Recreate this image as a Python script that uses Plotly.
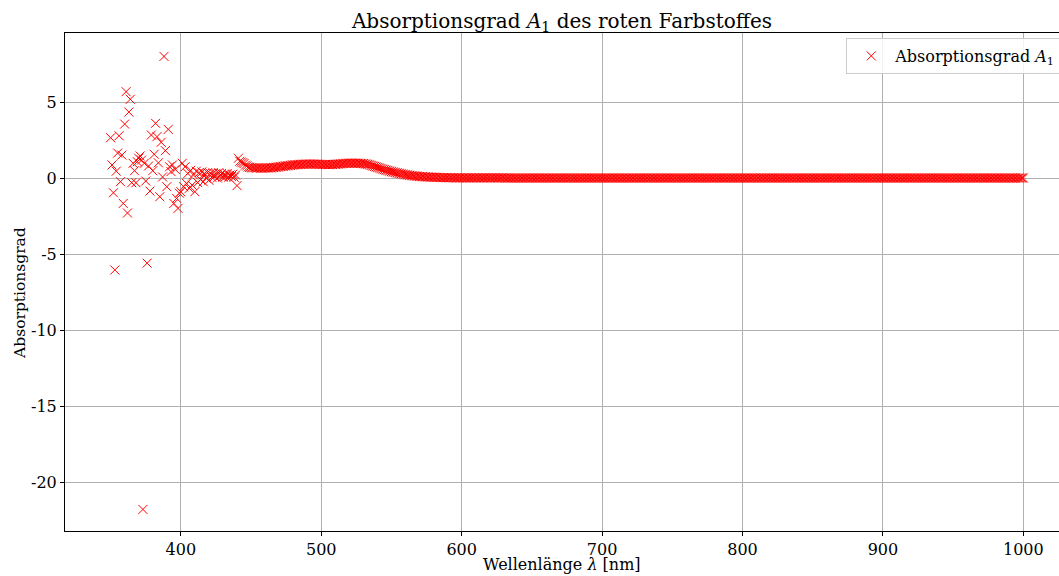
import plotly.graph_objects as go

# Wellenlängen in nm (1 nm Schritt)
wavelength_start = 350
wavelength_end = 1000

# Absorptionsgrad 350..450 nm (verrauschter Bereich)
absorb_noisy = [
    2.65, 0.86, -0.97, -6.05, 0.45, 1.64, 2.78, -0.24, 1.51, -1.67,   # 350-359
    3.55, 5.68, -2.30, 4.34, 5.18, -0.31, 0.97, 0.48, -0.31, 1.07,    # 360-369
    1.30, 1.45, 1.18, -21.8, 0.97, -0.20, -5.60, 0.79, -0.86, 2.83,   # 370-379
    0.48, 1.56, 3.60, 2.72, 1.00, -1.23, 2.35, 0.07, 8.00, 1.80,      # 380-389
    -0.57, 3.20, 0.74, 0.42, 0.86, -1.67, 0.57, -1.34, -2.00, -1.00,  # 390-399
    -0.90, 0.97, -0.57, 0.74, -0.35, 0.30, -0.68, 0.50, -0.47, 0.20,  # 400-409
    -0.90, 0.45, -0.30, 0.35, -0.10, 0.40, -0.25, 0.30, 0.00, 0.35,   # 410-419
    -0.15, 0.30, 0.05, 0.35, 0.10, 0.30, 0.00, 0.35, 0.15, 0.30,      # 420-429
    0.05, 0.25, 0.10, 0.30, 0.05, 0.20, 0.10, 0.25, 0.05, 0.20,       # 430-439
    -0.50, 1.30, 1.10, 1.05, 1.00, 0.95, 0.85, 0.80, 0.72, 0.70,      # 440-449
    0.68,                                                             # 450
]

# Absorptionsgrad 451..600 nm
absorb_band = [
    0.67, 0.67, 0.66, 0.66, 0.66, 0.66, 0.65, 0.65, 0.65, 0.66,
    0.66, 0.66, 0.67, 0.67, 0.68, 0.69, 0.70, 0.71, 0.72, 0.74,
    0.75, 0.76, 0.77, 0.79, 0.80, 0.81, 0.82, 0.83, 0.85, 0.86,
    0.87, 0.88, 0.88, 0.89, 0.90, 0.90, 0.91, 0.91, 0.92, 0.92,
    0.92, 0.92, 0.92, 0.92, 0.92, 0.91, 0.91, 0.91, 0.90, 0.90,
    0.89, 0.89, 0.89, 0.88, 0.88, 0.88, 0.89, 0.89, 0.90, 0.90,
    0.91, 0.92, 0.93, 0.94, 0.95, 0.96, 0.96, 0.97, 0.97, 0.98,
    0.98, 0.98, 0.98, 0.98, 0.98, 0.97, 0.97, 0.96, 0.96, 0.95,
    0.93, 0.92, 0.90, 0.88, 0.85, 0.82, 0.79, 0.76, 0.73, 0.70,
    0.67, 0.64, 0.61, 0.58, 0.55, 0.52, 0.50, 0.47, 0.45, 0.42,
    0.40, 0.38, 0.36, 0.34, 0.32, 0.30, 0.28, 0.26, 0.24, 0.22,
    0.21, 0.19, 0.18, 0.16, 0.15, 0.14, 0.13, 0.12, 0.11, 0.10,
    0.09, 0.09, 0.08, 0.08, 0.07, 0.07, 0.06, 0.06, 0.05, 0.05,
    0.05, 0.04, 0.04, 0.04, 0.03, 0.03, 0.03, 0.03, 0.02, 0.02,
    0.02, 0.02, 0.02, 0.02, 0.01, 0.01, 0.01, 0.01, 0.01, 0.01,
]

# Absorptionsgrad 601..1000 nm
absorb_tail = [
    0.01, 0.01, 0.01, 0.01, 0.01, 0.01, 0.01, 0.01, 0.01, 0.01, 0.01, 0.01, 0.01, 0.01, 0.01, 0.01, 0.01, 0.01, 0.01, 0.01,
    0.01, 0.01, 0.01, 0.01, 0.01, 0.01, 0.01, 0.01, 0.01, 0.01, 0.00, 0.00, 0.00, 0.00, 0.00, 0.00, 0.00, 0.00, 0.00, 0.00,
    0.00, 0.00, 0.00, 0.00, 0.00, 0.00, 0.00, 0.00, 0.00, 0.00, 0.00, 0.00, 0.00, 0.00, 0.00, 0.00, 0.00, 0.00, 0.00, 0.00,
    0.00, 0.00, 0.00, 0.00, 0.00, 0.00, 0.00, 0.00, 0.00, 0.00, 0.00, 0.00, 0.00, 0.00, 0.00, 0.00, 0.00, 0.00, 0.00, 0.00,
    0.00, 0.00, 0.00, 0.00, 0.00, 0.00, 0.00, 0.00, 0.00, 0.00, 0.00, 0.00, 0.00, 0.00, 0.00, 0.00, 0.00, 0.00, 0.00, 0.00,
    0.00, 0.00, 0.00, 0.00, 0.00, 0.00, 0.00, 0.00, 0.00, 0.00, 0.00, 0.00, 0.00, 0.00, 0.00, 0.00, 0.00, 0.00, 0.00, 0.00,
    0.00, 0.00, 0.00, 0.00, 0.00, 0.00, 0.00, 0.00, 0.00, 0.00, 0.00, 0.00, 0.00, 0.00, 0.00, 0.00, 0.00, 0.00, 0.00, 0.00,
    0.00, 0.00, 0.00, 0.00, 0.00, 0.00, 0.00, 0.00, 0.00, 0.00, 0.00, 0.00, 0.00, 0.00, 0.00, 0.00, 0.00, 0.00, 0.00, 0.00,
    0.00, 0.00, 0.00, 0.00, 0.00, 0.00, 0.00, 0.00, 0.00, 0.00, 0.00, 0.00, 0.00, 0.00, 0.00, 0.00, 0.00, 0.00, 0.00, 0.00,
    0.00, 0.00, 0.00, 0.00, 0.00, 0.00, 0.00, 0.00, 0.00, 0.00, 0.00, 0.00, 0.00, 0.00, 0.00, 0.00, 0.00, 0.00, 0.00, 0.00,
    0.00, 0.00, 0.00, 0.00, 0.00, 0.00, 0.00, 0.00, 0.00, 0.00, 0.00, 0.00, 0.00, 0.00, 0.00, 0.00, 0.00, 0.00, 0.00, 0.00,
    0.00, 0.00, 0.00, 0.00, 0.00, 0.00, 0.00, 0.00, 0.00, 0.00, 0.00, 0.00, 0.00, 0.00, 0.00, 0.00, 0.00, 0.00, 0.00, 0.00,
    0.00, 0.00, 0.00, 0.00, 0.00, 0.00, 0.00, 0.00, 0.00, 0.00, 0.00, 0.00, 0.00, 0.00, 0.00, 0.00, 0.00, 0.00, 0.00, 0.00,
    0.00, 0.00, 0.00, 0.00, 0.00, 0.00, 0.00, 0.00, 0.00, 0.00, 0.00, 0.00, 0.00, 0.00, 0.00, 0.00, 0.00, 0.00, 0.00, 0.00,
    0.00, 0.00, 0.00, 0.00, 0.00, 0.00, 0.00, 0.00, 0.00, 0.00, 0.00, 0.00, 0.00, 0.00, 0.00, 0.00, 0.00, 0.00, 0.00, 0.00,
    0.00, 0.00, 0.00, 0.00, 0.00, 0.00, 0.00, 0.00, 0.00, 0.00, 0.00, 0.00, 0.00, 0.00, 0.00, 0.00, 0.00, 0.00, 0.00, 0.00,
    0.00, 0.00, 0.00, 0.00, 0.00, 0.00, 0.00, 0.00, 0.00, 0.00, 0.00, 0.00, 0.00, 0.00, 0.00, 0.00, 0.00, 0.00, 0.00, 0.00,
    0.00, 0.00, 0.00, 0.00, 0.00, 0.00, 0.00, 0.00, 0.00, 0.00, 0.00, 0.00, 0.00, 0.00, 0.00, 0.00, 0.00, 0.00, 0.00, 0.00,
    0.00, 0.00, 0.00, 0.00, 0.00, 0.00, 0.00, 0.00, 0.00, 0.00, 0.00, 0.00, 0.00, 0.00, 0.00, 0.00, 0.00, 0.00, 0.00, 0.00,
    0.00, 0.00, 0.00, 0.00, 0.00, 0.00, 0.00, 0.00, 0.00, 0.00, 0.00, 0.00, 0.00, 0.00, 0.00, 0.00, 0.00, 0.00, 0.00, 0.00,
]

x_tick_vals = [400, 500, 600, 700, 800, 900, 1000]
x_tick_text = ["400", "500", "600", "700", "800", "900", "1000"]
y_tick_vals = [5, 0, -5, -10, -15, -20]
y_tick_text = ["5", "0", "-5", "-10", "-15", "-20"]

wavelengths = list(range(wavelength_start, wavelength_end + 1))
absorption = absorb_noisy + absorb_band + absorb_tail

FONT = "DejaVu Serif"

fig = go.Figure()
fig.add_trace(go.Scatter(
    x=wavelengths, y=absorption, mode="markers",
    name="Absorptionsgrad <i>A</i><sub>1</sub>",
    marker=dict(symbol="x-thin", size=9, line=dict(color="red", width=1), color="red"),
))

fig.update_layout(
    width=1059, height=576,
    paper_bgcolor="white", plot_bgcolor="white",
    margin=dict(l=65, r=0, t=33, b=45, autoexpand=False),
    font=dict(family=FONT, size=16, color="black"),
    title=dict(text="Absorptionsgrad <i>A</i><sub>1</sub> des roten Farbstoffes",
               x=0.5, xanchor="center", xref="paper", y=0.9635, yanchor="middle",
               font=dict(family=FONT, size=20, color="black")),
    showlegend=True,
    legend=dict(x=0.786, y=0.99, xanchor="left", yanchor="top", itemwidth=38,
                bgcolor="rgba(255,255,255,0.85)", bordercolor="#cccccc", borderwidth=1,
                font=dict(family=FONT, size=16)),
    annotations=[
        dict(text="Wellenlänge <i>λ</i> [nm]", xref="paper", yref="paper",
             x=0.5, y=-0.068, xanchor="center", yanchor="middle", showarrow=False,
             font=dict(family=FONT, size=16)),
        dict(text="Absorptionsgrad", xref="paper", yref="paper", textangle=-90,
             x=-0.0453, y=0.478, xanchor="center", yanchor="middle", showarrow=False,
             font=dict(family=FONT, size=15.5)),
    ],
)

fig.update_xaxes(
    range=[317.5, 1025.4], tickmode="array", tickvals=x_tick_vals, ticktext=x_tick_text,
    showgrid=True, gridcolor="#b0b0b0", gridwidth=1, automargin=False,
    showline=True, linecolor="black", linewidth=1, mirror=True,
    ticks="outside", ticklen=4, tickcolor="black", zeroline=False,
)
fig.update_yaxes(
    range=[-23.22, 9.54], tickmode="array", tickvals=y_tick_vals, ticktext=y_tick_text,
    showgrid=True, gridcolor="#b0b0b0", gridwidth=1, automargin=False,
    showline=True, linecolor="black", linewidth=1, mirror=False,
    ticks="outside", ticklen=4, tickcolor="black", zeroline=False,
)

fig.write_html(
    "out.html",
    config={"displayModeBar": False},
    post_script="document.body.style.margin='0';document.body.style.overflow='hidden';",
)
